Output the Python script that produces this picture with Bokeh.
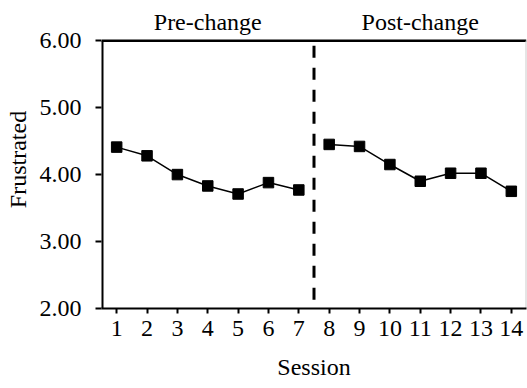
from bokeh.plotting import figure
from bokeh.models import FixedTicker, NumeralTickFormatter, LinearAxis, Range1d
from bokeh.core.properties import value
from bokeh.embed import file_html
from bokeh.resources import INLINE

pre_sessions = [1, 2, 3, 4, 5, 6, 7]
pre_values = [4.41, 4.28, 4.00, 3.83, 3.71, 3.88, 3.77]
post_sessions = [8, 9, 10, 11, 12, 13, 14]
post_values = [4.45, 4.42, 4.15, 3.90, 4.02, 4.02, 3.75]
x_ticks = list(range(1, 15))
y_ticks = [2, 3, 4, 5, 6]
phase_labels = ["Pre-change", "Post-change"]
phase_label_x = [4, 11]
change_point = 7.5
x_lo, x_hi = 0.5, 14.5
y_lo, y_hi = 2, 6

FONT = "Liberation Serif"
FS = "24px"

p = figure(width=527, height=388, output_backend="svg", toolbar_location=None,
           x_range=Range1d(x_lo, x_hi), y_range=Range1d(y_lo, 6.45),
           min_border_left=101, min_border_right=1, min_border_top=10, min_border_bottom=80)
p.outline_line_color = None
p.grid.visible = False
p.background_fill_color = "white"
p.border_fill_color = "white"

xa = p.xaxis[0]
xa.ticker = FixedTicker(ticks=x_ticks)
xa.axis_label = "Session"
xa.axis_line_width = 2
xa.axis_line_color = "black"
xa.major_tick_out = 5
xa.major_tick_in = 0
xa.major_tick_line_width = 2
xa.minor_tick_line_color = None
xa.major_label_standoff = 7
xa.major_label_text_font = FONT
xa.major_label_text_font_size = FS
xa.major_label_text_color = "black"
xa.axis_label_text_font = FONT
xa.axis_label_text_font_size = FS
xa.axis_label_text_font_style = "normal"
xa.axis_label_text_color = "black"
xa.axis_label_standoff = 15

ya = p.yaxis[0]
ya.ticker = FixedTicker(ticks=y_ticks)
ya.formatter = NumeralTickFormatter(format="0.00")
ya.axis_label = "Frustrated"
ya.axis_line_color = None
ya.major_tick_out = 6
ya.major_tick_in = 0
ya.major_tick_line_width = 2
ya.minor_tick_line_color = None
ya.major_label_standoff = 14
ya.major_label_text_font = FONT
ya.major_label_text_font_size = FS
ya.major_label_text_color = "black"
ya.axis_label_text_font = FONT
ya.axis_label_text_font_size = FS
ya.axis_label_text_font_style = "normal"
ya.axis_label_text_color = "black"
ya.axis_label_standoff = 6
ya.axis_label_text_baseline = "alphabetic"

# frame lines: left (black), top (black), right (light gray)
p.segment(x0=[x_lo], y0=[y_lo], x1=[x_lo], y1=[y_hi], line_color="black", line_width=4)
p.segment(x0=[x_lo], y0=[y_hi], x1=[x_hi], y1=[y_hi], line_color="black", line_width=2.5)
p.segment(x0=[x_hi], y0=[y_lo], x1=[x_hi], y1=[y_hi], line_color="#cccccc", line_width=2)

# dashed change line
p.segment(x0=[change_point], y0=[y_hi], x1=[change_point], y1=[y_lo], line_color="black",
          line_width=3, line_dash="12 10", line_dash_offset=17)

for xs, ys in [(pre_sessions, pre_values), (post_sessions, post_values)]:
    p.line(xs, ys, line_color="black", line_width=1.5)
    p.scatter(xs, ys, marker="square", size=10.5, fill_color="black", line_color="black")

p.text(x=phase_label_x, y=[6.28, 6.28], text=phase_labels, text_align="center",
       text_baseline="alphabetic", text_font=value(FONT), text_font_size=FS, text_color="black")

open("out.html", "w").write(file_html(p, INLINE))
